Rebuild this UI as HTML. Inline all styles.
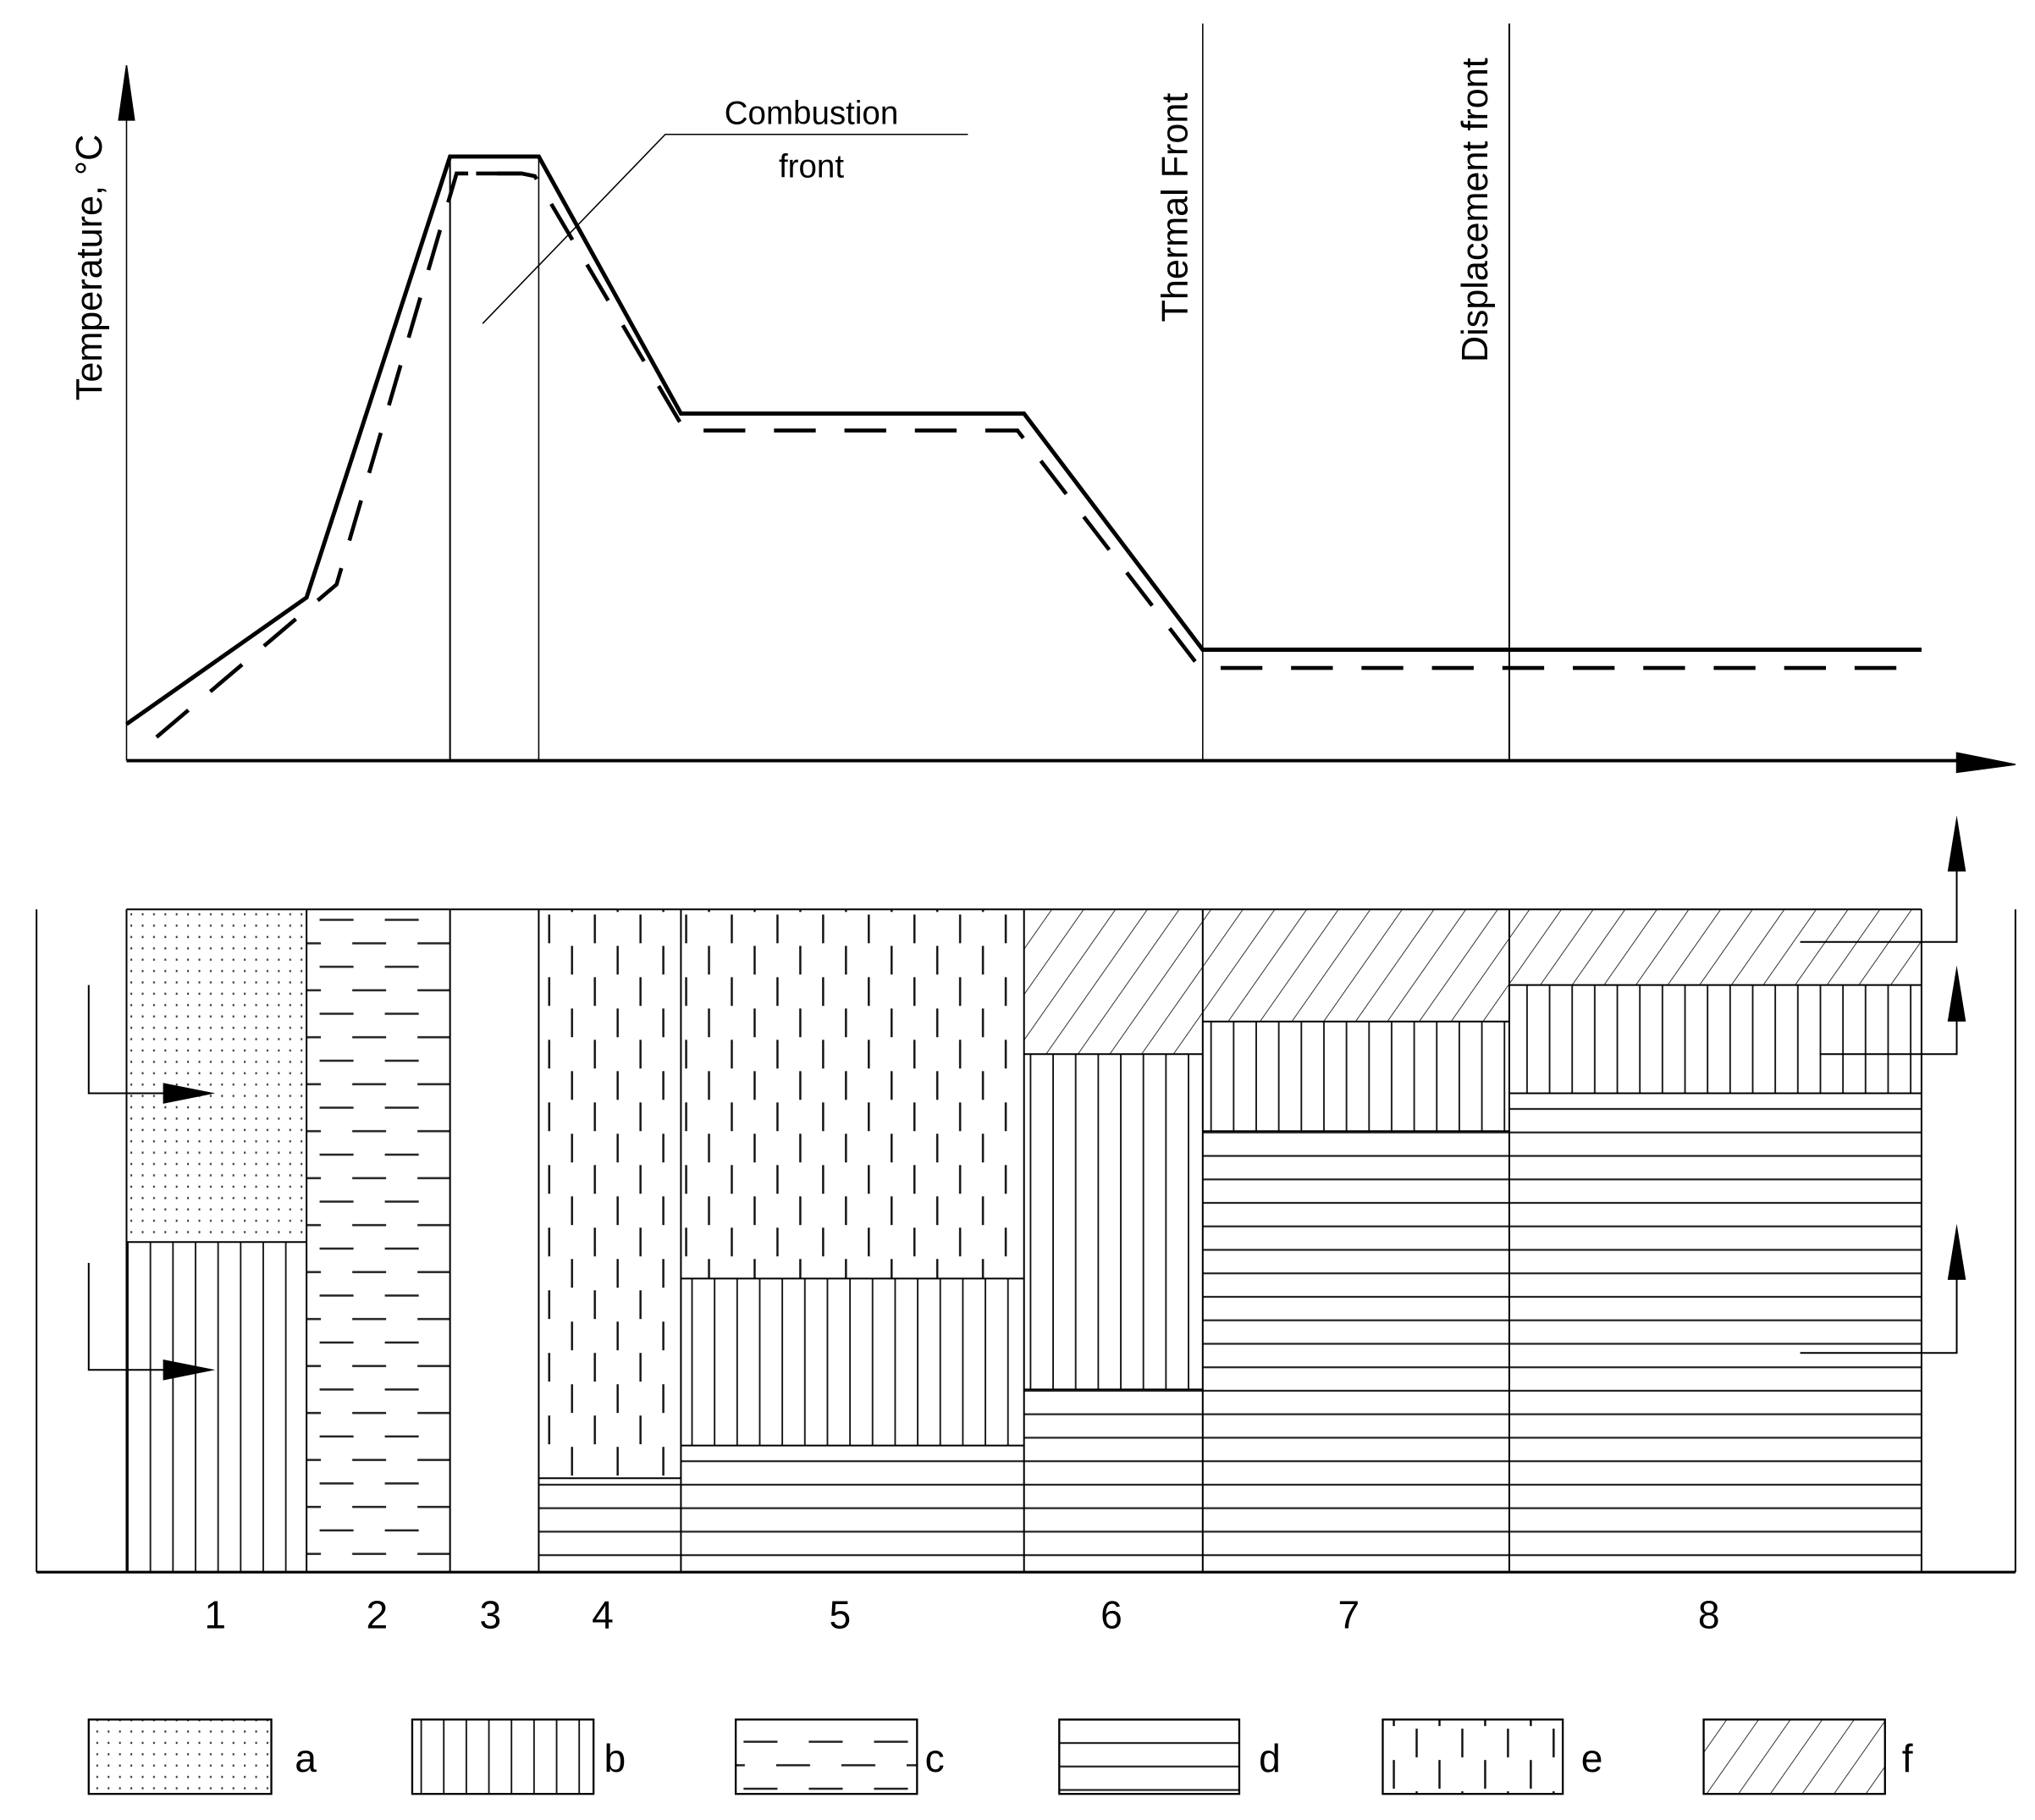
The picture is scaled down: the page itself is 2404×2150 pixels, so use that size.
<!DOCTYPE html>
<html><head><meta charset="utf-8"><style>html,body{margin:0;padding:0;background:#fff}svg{display:block}</style></head>
<body>
<svg width="2404" height="2150" viewBox="0 0 1560 1395" preserveAspectRatio="none" xmlns="http://www.w3.org/2000/svg" font-family="Liberation Sans, sans-serif">
<defs>
<pattern id="pa" patternUnits="userSpaceOnUse" width="8.7" height="8.7" x="97" y="697"><rect x="3" y="3" width="1.3" height="1.6" fill="#333"/></pattern>
<pattern id="pb" patternUnits="userSpaceOnUse" width="17.3" height="20" x="97" y="0"><line x1="1" y1="0" x2="1" y2="20" stroke="#111" stroke-width="1.2"/></pattern>
<pattern id="pc" patternUnits="userSpaceOnUse" width="50" height="36" x="235" y="697"><line x1="10" y1="8" x2="36" y2="8" stroke="#222" stroke-width="1.6"/><line x1="-15" y1="26" x2="11" y2="26" stroke="#222" stroke-width="1.6"/><line x1="35" y1="26" x2="61" y2="26" stroke="#222" stroke-width="1.6"/></pattern>
<pattern id="pd" patternUnits="userSpaceOnUse" width="20" height="18" x="0" y="697"><line x1="0" y1="9" x2="20" y2="9" stroke="#222" stroke-width="1.4"/></pattern>
<pattern id="pe" patternUnits="userSpaceOnUse" width="35" height="48" x="413" y="697"><line x1="8" y1="4" x2="8" y2="26" stroke="#111" stroke-width="1.6"/><line x1="25.5" y1="28" x2="25.5" y2="50" stroke="#111" stroke-width="1.6"/><line x1="25.5" y1="-20" x2="25.5" y2="2" stroke="#111" stroke-width="1.6"/></pattern>
<pattern id="pf" patternUnits="userSpaceOnUse" width="20" height="20" patternTransform="rotate(35)"><line x1="0" y1="0" x2="0" y2="20" stroke="#222" stroke-width="1.2"/></pattern>
</defs>
<g stroke="#000" fill="none">
<line x1="97" y1="80" x2="97" y2="583" stroke-width="1"/>
<polygon points="97,50 91,92 103,92" fill="#000"/>
<line x1="97" y1="583" x2="1510" y2="583" stroke-width="2.5"/>
<polygon points="1545,586 1500,577 1500,592" fill="#000"/>
<line x1="345" y1="120" x2="345" y2="583" stroke-width="1.3"/>
<line x1="413" y1="120" x2="413" y2="583" stroke-width="1"/>
<line x1="922" y1="18" x2="922" y2="583" stroke-width="1"/>
<line x1="1157" y1="18" x2="1157" y2="583" stroke-width="1.3"/>
<polyline points="97,555 235,458 345,120 413,120 522,317 785,317 922,498 1473,498" stroke-width="3.2"/>
<polyline points="120,565 258,448 350,133 365,133 400,133 410,135 525,330 780,330 920,512 1473,512" stroke-width="3" stroke-dasharray="32,22"/>
<line x1="365" y1="133" x2="400" y2="133" stroke-width="3"/>
<polyline points="370,248 510,103 742,103" stroke-width="1"/>
</g>
<g font-size="25" fill="#000">
<text x="622" y="95" text-anchor="middle">Combustion</text>
<text x="622" y="136" text-anchor="middle">front</text>
</g>
<g font-size="28" fill="#000">
<text transform="translate(78,205) rotate(-90)" text-anchor="middle">Temperature, °C</text>
<text transform="translate(910,159) rotate(-90)" text-anchor="middle">Thermal Front</text>
<text transform="translate(1140,161) rotate(-90)" text-anchor="middle">Displacement front</text>
</g>
<rect x="97" y="697" width="138" height="255" fill="url(#pa)"/>
<rect x="97" y="952" width="138" height="253" fill="url(#pb)"/>
<rect x="235" y="697" width="110" height="508" fill="url(#pc)"/>
<rect x="413" y="697" width="109" height="436" fill="url(#pe)"/>
<rect x="413" y="1133" width="109" height="72" fill="url(#pd)"/>
<rect x="522" y="697" width="263" height="283" fill="url(#pe)"/>
<rect x="522" y="980" width="263" height="128" fill="url(#pb)"/>
<rect x="522" y="1108" width="263" height="97" fill="url(#pd)"/>
<rect x="785" y="697" width="137" height="111" fill="url(#pf)"/>
<rect x="785" y="808" width="137" height="257" fill="url(#pb)"/>
<rect x="785" y="1065" width="137" height="140" fill="url(#pd)"/>
<rect x="922" y="697" width="235" height="86" fill="url(#pf)"/>
<rect x="922" y="783" width="235" height="84" fill="url(#pb)"/>
<rect x="922" y="867" width="235" height="338" fill="url(#pd)"/>
<rect x="1157" y="697" width="316" height="58" fill="url(#pf)"/>
<rect x="1157" y="755" width="316" height="83" fill="url(#pb)"/>
<rect x="1157" y="838" width="316" height="367" fill="url(#pd)"/>
<g stroke="#000" fill="none" stroke-width="1.3">
<line x1="97" y1="697" x2="1473" y2="697"/>
<line x1="28" y1="697" x2="28" y2="1205"/>
<line x1="1545" y1="697" x2="1545" y2="1205"/>
<line x1="28" y1="1205" x2="1545" y2="1205" stroke-width="2"/>
<line x1="97" y1="697" x2="97" y2="1205"/>
<line x1="235" y1="697" x2="235" y2="1205"/>
<line x1="345" y1="697" x2="345" y2="1205"/>
<line x1="413" y1="697" x2="413" y2="1205"/>
<line x1="522" y1="697" x2="522" y2="1205"/>
<line x1="785" y1="697" x2="785" y2="1205"/>
<line x1="922" y1="697" x2="922" y2="1205"/>
<line x1="1157" y1="697" x2="1157" y2="1205"/>
<line x1="1473" y1="697" x2="1473" y2="1205"/>
<line x1="97" y1="952" x2="235" y2="952"/>
<line x1="413" y1="1133" x2="522" y2="1133"/>
<line x1="522" y1="980" x2="785" y2="980"/>
<line x1="522" y1="1108" x2="785" y2="1108"/>
<line x1="785" y1="808" x2="922" y2="808"/>
<line x1="785" y1="1065" x2="922" y2="1065"/>
<line x1="922" y1="783" x2="1157" y2="783"/>
<line x1="922" y1="867" x2="1157" y2="867"/>
<line x1="1157" y1="755" x2="1473" y2="755"/>
<line x1="1157" y1="838" x2="1473" y2="838"/>
<polyline points="68,755 68,838 130,838"/>
<polyline points="68,968 68,1050 130,1050"/>
<polyline points="1380,722 1500,722 1500,665"/>
<polyline points="1395,808 1500,808 1500,780"/>
<polyline points="1380,1037 1500,1037 1500,978"/>
</g>
<g fill="#000">
<polygon points="165,838 125,830 125,846"/>
<polygon points="165,1050 125,1042 125,1058"/>
<polygon points="1500,625 1493,668 1507,668"/>
<polygon points="1500,740 1493,783 1507,783"/>
<polygon points="1500,938 1493,981 1507,981"/>
</g>
<g font-size="30" text-anchor="middle" fill="#000">
<text x="165" y="1248">1</text><text x="289" y="1248">2</text><text x="376" y="1248">3</text><text x="462" y="1248">4</text>
<text x="644" y="1248">5</text><text x="852" y="1248">6</text><text x="1034" y="1248">7</text><text x="1310" y="1248">8</text>
</g>
<rect x="68" y="1318" width="140" height="57" fill="url(#pa)"/>
<rect x="316" y="1318" width="139" height="57" fill="url(#pb)"/>
<rect x="564" y="1318" width="139" height="57" fill="url(#pc)"/>
<rect x="812" y="1318" width="138" height="57" fill="url(#pd)"/>
<rect x="1060" y="1318" width="138" height="57" fill="url(#pe)"/>
<rect x="1306" y="1318" width="139" height="57" fill="url(#pf)"/>
<g fill="none" stroke="#000" stroke-width="1.5">
<rect x="68" y="1318" width="140" height="57"/><rect x="316" y="1318" width="139" height="57"/><rect x="564" y="1318" width="139" height="57"/>
<rect x="812" y="1318" width="138" height="57"/><rect x="1060" y="1318" width="138" height="57"/><rect x="1306" y="1318" width="139" height="57"/>
</g>
<g font-size="30" fill="#000">
<text x="226" y="1358">a</text><text x="463" y="1358">b</text><text x="709" y="1358">c</text><text x="965" y="1358">d</text><text x="1212" y="1358">e</text><text x="1458" y="1358">f</text>
</g>
</svg>
</body></html>
